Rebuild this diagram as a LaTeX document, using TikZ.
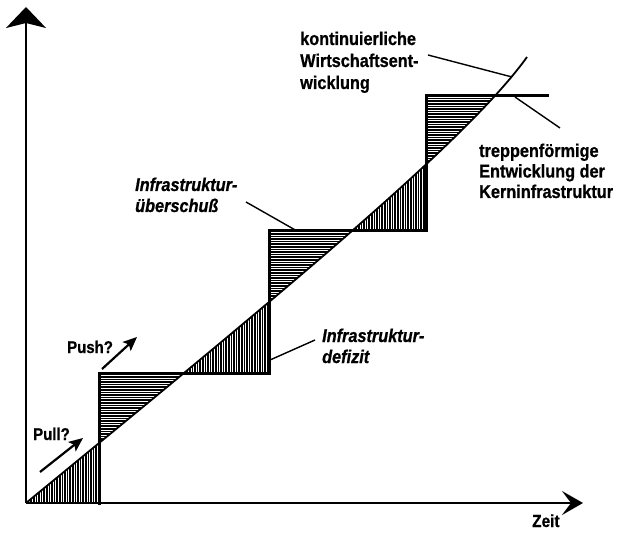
\documentclass[tikz,border=0pt]{standalone}
\usepackage{fontspec}
\setmainfont{Liberation Sans}[FakeStretch=0.88, BoldFeatures={FakeBold=0.8}, BoldItalicFeatures={FakeBold=0.8}]
\usetikzlibrary{arrows.meta}
\begin{document}
\begin{tikzpicture}[x=1pt,y=-1pt,
  axis/.style={line width=2pt},
  stair/.style={line width=3pt, line join=miter, line cap=rect},
  growth/.style={line width=1.8pt},
  leader/.style={line width=1.4pt},
  hatchline/.style={line width=1.7pt},
  lbl/.style={inner sep=0pt, anchor=base west, align=left, font=\fontsize{18.5}{22}\selectfont\bfseries},
  ilbl/.style={inner sep=0pt, anchor=base west, align=left, font=\fontsize{18.5}{21}\selectfont\bfseries\itshape},
  slbl/.style={inner sep=0pt, anchor=base west, font=\fontsize{17}{18}\selectfont\bfseries},
  pp/.style={line width=2.2pt, -{Stealth[length=14pt,width=12pt,inset=3pt]}}
]
\useasboundingbox (0,0) rectangle (617,534);
% growth curve control points
\coordinate (g0) at (26,503);
\coordinate (g1) at (276,298);
\coordinate (g2) at (467,141);
\coordinate (g3) at (527,57);
% deficit hatching (vertical)
\begin{scope}
  \clip (26,503) rectangle (99,380) (99,373) rectangle (269,280) (269,231) rectangle (426,150);
  \clip (g0) .. controls (g1) and (g2) .. (g3) -- (617,57) -- (617,534) -- (26,534) -- cycle;
  \foreach \x in {26,28.6,...,430} \draw[hatchline] (\x,140) -- (\x,510);
\end{scope}
% surplus hatching (horizontal)
\begin{scope}
  \clip (99,503) rectangle (183,373) (269,503) rectangle (350,231) (426,503) rectangle (497,96);
  \clip (g0) .. controls (g1) and (g2) .. (g3) -- (527,0) -- (0,0) -- (0,503) -- cycle;
  \foreach \y in {96,98.6,...,505} \draw[hatchline] (95,\y) -- (500,\y);
\end{scope}
% growth curve
\draw[growth] (g0) .. controls (g1) and (g2) .. (g3);
% staircase
\coordinate (s0) at (99,503);
\coordinate (s1) at (99,373);
\coordinate (s2) at (269,373);
\coordinate (s3) at (269,231);
\coordinate (s4) at (426,231);
\coordinate (s5) at (426,96);
\coordinate (s6) at (547,96);
\draw[stair] (s0) -- (s1) -- (s2) -- (s3) -- (s4) -- (s5) -- (s6);
% axes
\coordinate (o) at (26,503);
\coordinate (ytip) at (26,7);
\coordinate (xtip) at (583,503);
\draw[axis, -{Stealth[length=21pt,width=40pt,inset=5pt]}] (o) -- (ytip);
\draw[axis, -{Stealth[length=21pt,width=24pt,inset=9pt]}] (o) -- (xtip);
% labels (anchored at the baseline of their last line)
\node[lbl] (kont) at (300,89) {kontinuierliche\\Wirtschaftsent-\\wicklung};
\node[lbl, font=\fontsize{18.5}{20.5}\selectfont\bfseries] (trep) at (479,198) {treppenförmige\\Entwicklung der\\Kerninfrastruktur};
\node[ilbl] (ueber) at (135,212) {Infrastruktur-\\überschuß};
\node[ilbl] (defi) at (322,363) {Infrastruktur-\\defizit};
\node[slbl] (push) at (67,353) {Push?};
\node[slbl] (pull) at (33,440) {Pull?};
\node[slbl, font=\fontsize{17.5}{18}\selectfont\bfseries] (zeit) at (532,527) {Zeit};
% leaders
\coordinate (kontA) at (428,55);
\coordinate (kontB) at (512,77);
\coordinate (trepA) at (560,128);
\coordinate (trepB) at (515,97);
\coordinate (ueberA) at (246,202);
\coordinate (ueberB) at (297,231);
\coordinate (defiA) at (315,340);
\coordinate (defiB) at (270,360);
\draw[leader] (kontA) -- (kontB);
\draw[leader] (trepA) -- (trepB);
\draw[leader] (ueberA) -- (ueberB);
\draw[leader] (defiA) -- (defiB);
% push / pull arrows
\coordinate (pushA) at (102,369);
\coordinate (pushB) at (137,337);
\coordinate (pullA) at (40,472);
\coordinate (pullB) at (83,438);
\draw[pp] (pushA) -- (pushB);
\draw[pp] (pullA) -- (pullB);
\end{tikzpicture}
\end{document}
